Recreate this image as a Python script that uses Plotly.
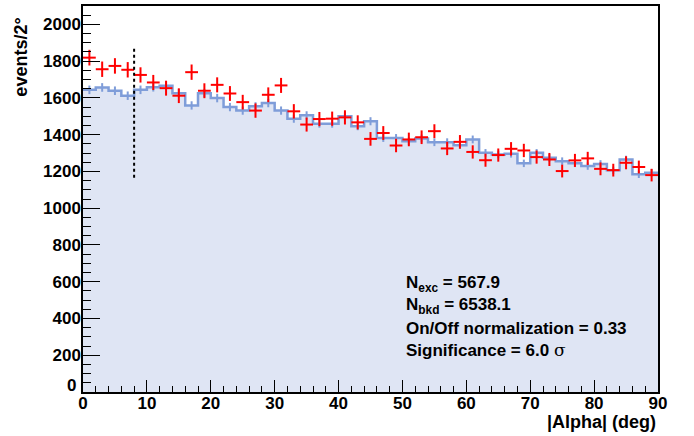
import numpy as np
import plotly.graph_objects as go

# ---------------- data ----------------
bin_edges = list(range(0, 92, 2))          # |Alpha| bins, 2 deg wide
bin_centers = [e + 1 for e in bin_edges[:-1]]

on_counts = [1819, 1756, 1774, 1753, 1725, 1684, 1653, 1612, 1740, 1639,
             1671, 1624, 1577, 1531, 1617, 1668, 1527, 1455, 1485, 1487,
             1494, 1467, 1377, 1409, 1341, 1374, 1386, 1419, 1325, 1361,
             1306, 1261, 1289, 1323, 1314, 1278, 1265, 1202, 1260, 1271,
             1214, 1207, 1247, 1224, 1180]

off_scaled = [1644, 1657, 1639, 1612, 1644, 1658, 1666, 1626, 1559, 1626,
              1599, 1550, 1531, 1554, 1572, 1531, 1487, 1505, 1460, 1460,
              1500, 1446, 1473, 1382, 1382, 1364, 1379, 1359, 1359, 1343,
              1374, 1301, 1292, 1296, 1244, 1301, 1274, 1256, 1244, 1229,
              1241, 1206, 1265, 1184, 1193]

norm = 0.33
cut_alpha = 8
cut_line_range = [1165, 1880]

y_tick_values = list(range(200, 2001, 200))
y_origin_label = "0"

stats_lines = ["N<sub>exc</sub> = 567.9",
               "N<sub>bkd</sub> = 6538.1",
               "On/Off normalization = 0.33",
               "Significance = 6.0 <span style='font-family:DejaVu Serif;font-weight:normal'>σ</span>"]
stats_y = [590, 470, 347, 228]
stats_x = 50.2

x_title = "|Alpha| (deg)"
y_title = "events/2°"

# ---------------- figure ----------------
on_err = np.sqrt(np.array(on_counts, dtype=float))
off_err = np.sqrt(np.array(off_scaled, dtype=float) * norm)

blue_line = "#7f9dd9"
blue_fill = "#dfe5f4"
FONT = "Liberation Sans"
tick_font = dict(family=FONT, size=17, color="black", weight="bold")

fig = go.Figure()

fig.add_trace(go.Scatter(
    x=bin_edges, y=off_scaled + [off_scaled[-1]],
    mode="lines", line=dict(shape="hv", color=blue_line, width=2.5),
    fill="tozeroy", fillcolor=blue_fill, hoverinfo="skip", showlegend=False))

fig.add_trace(go.Scatter(
    x=bin_centers, y=off_scaled, mode="markers",
    marker=dict(size=1, color=blue_line, opacity=0),
    error_y=dict(type="data", array=off_err, color=blue_line, thickness=2, width=0),
    showlegend=False))

fig.add_trace(go.Scatter(
    x=bin_centers, y=on_counts, mode="markers",
    marker=dict(size=1, color="red", opacity=0),
    error_x=dict(type="constant", value=1, color="red", thickness=2, width=0),
    error_y=dict(type="data", array=on_err, color="red", thickness=2, width=0),
    showlegend=False))

fig.add_shape(type="line", xref="x", yref="y",
              x0=cut_alpha, x1=cut_alpha, y0=cut_line_range[0], y1=cut_line_range[1],
              line=dict(color="black", width=2, dash="3px,3px"))

for txt, yv in zip(stats_lines, stats_y):
    fig.add_annotation(x=stats_x, y=yv, xref="x", yref="y", text=txt,
                       showarrow=False, xanchor="left", yanchor="middle",
                       font=dict(family=FONT, size=17, color="black", weight="bold"))

fig.add_annotation(x=1, y=-0.078, xref="paper", yref="paper", text=x_title,
                   showarrow=False, xanchor="right", yanchor="middle",
                   font=dict(family=FONT, size=18, color="black", weight="bold"))
fig.add_annotation(x=-0.107, y=0.975, xref="paper", yref="paper", text=y_title,
                   textangle=-90, showarrow=False, xanchor="center", yanchor="top",
                   font=dict(family=FONT, size=18, color="black", weight="bold"))
# y-axis origin label, set slightly above the x-axis "0" as in the original
fig.add_annotation(x=-0.009, y=0.018, xref="paper", yref="paper", text=y_origin_label,
                   showarrow=False, xanchor="right", yanchor="middle", font=tick_font)

axis_common = dict(showgrid=False, zeroline=False, showline=True, linecolor="black",
                   linewidth=1.5, mirror=True, ticks="inside", tickcolor="black",
                   tickfont=tick_font)

fig.update_xaxes(range=[0, 90], dtick=10, tick0=0, ticklen=12, tickwidth=1.2,
                 ticklabelstandoff=-5,
                 minor=dict(ticks="inside", dtick=2, ticklen=6, tickcolor="black", tickwidth=1),
                 **axis_common)
fig.update_yaxes(range=[0, 2100], tickmode="array", tickvals=y_tick_values,
                 ticklen=17, tickwidth=1.2, ticklabelstandoff=-3,
                 minor=dict(ticks="inside", dtick=50, tick0=0, ticklen=8,
                            tickcolor="black", tickwidth=1),
                 **axis_common)

fig.update_layout(width=694, height=436,
                  margin=dict(l=83, r=36, t=4, b=44),
                  plot_bgcolor="white", paper_bgcolor="white",
                  showlegend=False)

fig.write_html("out.html", config={"displayModeBar": False},
               post_script="document.body.style.margin='0';document.body.style.padding='0';")
